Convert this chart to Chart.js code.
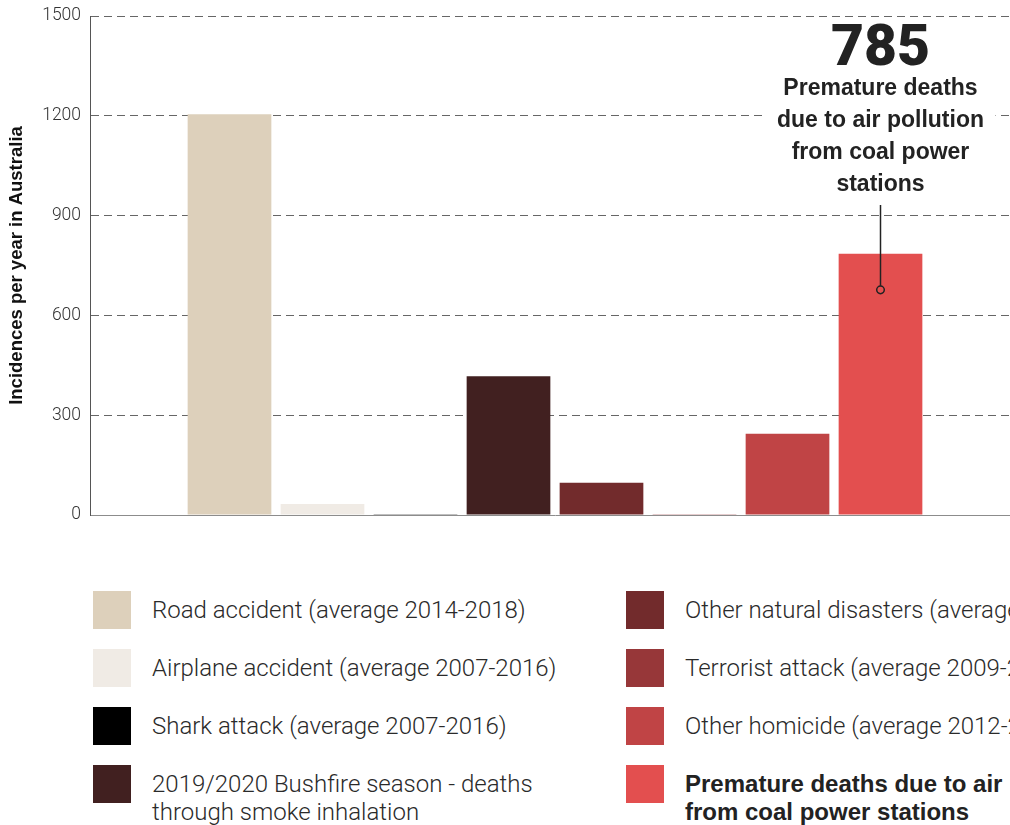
<!DOCTYPE html>
<html>
<head>
<meta charset="utf-8">
<script src="https://cdn.jsdelivr.net/npm/chart.js@4/dist/chart.umd.min.js"></script>
<style>
  html, body { margin: 0; padding: 0; background: #fff; overflow: hidden; }
  #wrap { position: absolute; left: 0; top: 0; width: 1020px; height: 540px; }
  #legend { position: absolute; left: 0; top: 0; width: 1200px; }
  .item { position: absolute; }
  .sw { position: absolute; left: 0; top: 0; width: 38px; height: 38px; }
  .lbl { position: absolute; left: 59px; top: 5px; white-space: pre; font-family: Roboto, "Liberation Sans", sans-serif;
         font-weight: 300; font-size: 24px; line-height: 28px; color: #2a2a2a; }
  .lbl.bold { font-family: "Liberation Sans", Arial, sans-serif; font-weight: bold; font-size: 24px; color: #222; }
</style>
</head>
<body>
<div id="wrap"><canvas id="chart"></canvas></div>
<div id="legend"></div>
<script>
// series (one bar each, drawn in this order)
const seriesLabels = [
  'Road accident (average 2014-2018)',
  'Airplane accident (average 2007-2016)',
  'Shark attack (average 2007-2016)',
  '2019/2020 Bushfire season - deaths\nthrough smoke inhalation',
  'Other natural disasters (average 2009-2018)',
  'Terrorist attack (average 2009-2018)',
  'Other homicide (average 2012-2017)',
  'Premature deaths due to air pollution\nfrom coal power stations'
];
const seriesValues = [1205, 33, 2, 417, 97, 2, 244, 785];
const seriesColors = ['#ddd0bb', '#f0ebe5', '#000000', '#412020', '#722b2c', '#973739', '#c04445', '#e34f4f'];
const yTicks = [0, 300, 600, 900, 1200, 1500];
const calloutLines = ['Premature deaths', 'due to air pollution', 'from coal power', 'stations'];

const datasets = seriesLabels.map((label, i) => ({
  label: label,
  data: [seriesValues[i]],
  backgroundColor: seriesColors[i],
  borderWidth: 0,
  categoryPercentage: 0.8,
  barPercentage: 0.9
}));

const calloutPlugin = {
  id: 'callout',
  afterDatasetsDraw(chart) {
    const { ctx, chartArea } = chart;
    const bar = chart.getDatasetMeta(datasets.length - 1).data[0];
    const x = bar.x;
    const top = chartArea.top;
    ctx.save();
    ctx.fillStyle = '#fff';
    ctx.fillRect(x - 115, top + 58, 230, 138);
    ctx.fillStyle = '#222';
    ctx.textAlign = 'center';
    ctx.textBaseline = 'alphabetic';
    ctx.font = '900 57px Roboto, "Liberation Sans", sans-serif';
    ctx.fillText(String(seriesValues[seriesValues.length - 1]), x, top + 49);
    ctx.font = 'bold 23px "Liberation Sans", Arial, sans-serif';
    calloutLines.forEach((l, i) => ctx.fillText(l, x, top + 79 + i * 32));
    const y1 = top + 189;
    const y2 = bar.y + 36;
    ctx.strokeStyle = '#222';
    ctx.lineWidth = 1.5;
    ctx.beginPath();
    ctx.moveTo(x, y1);
    ctx.lineTo(x, y2 - 4);
    ctx.stroke();
    ctx.beginPath();
    ctx.arc(x, y2, 3.8, 0, Math.PI * 2);
    ctx.stroke();
    ctx.restore();
  }
};

new Chart(document.getElementById('chart'), {
  type: 'bar',
  data: { labels: [''], datasets: datasets },
  options: {
    responsive: true,
    maintainAspectRatio: false,
    animation: false,
    layout: { padding: { top: 16, bottom: 25, left: 0, right: 0 } },
    plugins: { legend: { display: false }, tooltip: { enabled: false } },
    scales: {
      x: {
        ticks: { display: false },
        grid: { display: false },
        border: { display: true, color: '#8c8c8c', width: 1 },
        afterFit: s => { s.height = 0; s.paddingLeft = 0; s.paddingRight = 0; }
      },
      y: {
        min: 0,
        max: 1500,
        afterBuildTicks: s => { s.ticks = yTicks.map(v => ({ value: v })); },
        ticks: {
          padding: 9,
          color: '#333',
          font: { family: 'Roboto, "Liberation Sans", sans-serif', size: 17.5, weight: 300 },
          callback: v => String(v)
        },
        grid: {
          drawTicks: false,
          color: ctx => (ctx.tick && ctx.tick.value === 0) ? 'rgba(0,0,0,0)' : '#666',
          lineWidth: 1
        },
        border: { display: true, color: '#555', width: 1, dash: [8, 5] },
        title: {
          display: true,
          text: 'Incidences per year in Australia',
          color: '#111',
          font: { family: '"Liberation Sans", Arial, sans-serif', size: 18.5, weight: 'bold' },
          padding: { top: 6, bottom: 0 }
        },
        afterFit: s => { s.width = 90; s.paddingTop = 0; s.paddingBottom = 0; }
      }
    }
  },
  plugins: [calloutPlugin]
});

// two-column legend, filled column by column
const legend = document.getElementById('legend');
seriesLabels.forEach((label, i) => {
  const col = Math.floor(i / 4);
  const row = i % 4;
  const item = document.createElement('div');
  item.className = 'item';
  item.style.left = (col === 0 ? 93 : 626) + 'px';
  item.style.top = (591 + row * 58) + 'px';
  const sw = document.createElement('div');
  sw.className = 'sw';
  sw.style.background = seriesColors[i];
  const lbl = document.createElement('div');
  lbl.className = 'lbl' + (i === seriesLabels.length - 1 ? ' bold' : '');
  lbl.textContent = label;
  item.appendChild(sw);
  item.appendChild(lbl);
  legend.appendChild(item);
});
</script>
</body>
</html>
